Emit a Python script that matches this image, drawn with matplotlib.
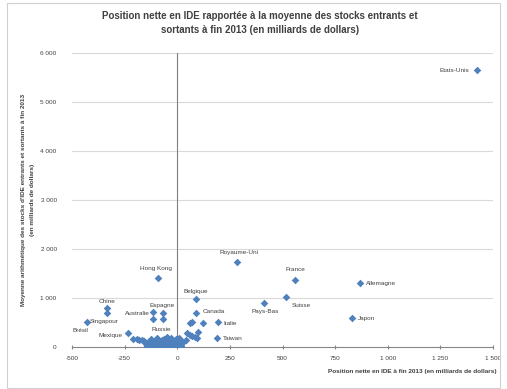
import matplotlib
matplotlib.use("Agg")
import matplotlib.pyplot as plt
from matplotlib.patches import Rectangle

plt.rcParams['font.family'] = ['Liberation Sans', 'DejaVu Sans']

# Labelled countries: net FDI position (x) and mean of inward/outward stocks (y), bn USD
countries = ["Etats-Unis", "Royaume-Uni", "France", "Allemagne", "Suisse", "Pays-Bas",
             "Japon", "Hong Kong", "Belgique", "Chine", "Singapour", "Brésil", "Mexique",
             "Australie", "Espagne", "Russie", "Canada", "Italie", "Taiwan"]
net_position = [1425, 286, 560, 867, 519, 410, 829, -90, 88, -335, -335, -431, -233,
                -115, -67, -67, 90, 195, 190]
mean_stock = [5650, 1735, 1360, 1300, 1020, 900, 590, 1400, 975, 790, 690, 508, 286,
              570, 694, 571, 694, 510, 184]

# Remaining (unlabelled) economies
other_x = [-114, -190, -167, -210, 48, 100, 62, 71, 124, 60, 85, 95, 70, 40,
           -180, -160, -140, -120, -100, -90, -80, -70, -60, -55, -45, -40, -35, -30,
           -25, -20, -15, -10, -8, -5, 0, 3, 6, 10, 12, 15, -130, -110, -95, -65, -50,
           -28, -18, -3, 20, 25, -125, -85, -5, 8,
           -150, -135, -115, -105, -75, -62, -48, -38, -22, -12, 2, 18, -88, -52,
           -142, -98, -72, -33, -2, 14]
other_y = [714, 163, 143, 163, 286, 306, 490, 510, 490, 245, 200, 184, 230, 150,
           150, 130, 110, 90, 140, 60, 100, 40, 120, 80, 30, 150, 60, 100,
           20, 45, 80, 10, 35, 120, 5, 50, 25, 80, 15, 140, 50, 20, 180, 170, 200,
           190, 5, 60, 30, 100, 170, 10, 160, 190,
           60, 80, 40, 120, 70, 20, 110, 40, 130, 60, 100, 60, 30, 50,
           20, 90, 140, 15, 170, 40]

x_ticks = [-500, -250, 0, 250, 500, 750, 1000, 1250, 1500]
x_tick_labels = ["-500", "-250", "0", "250", "500", "750", "1 000", "1 250", "1 500"]
y_ticks = [0, 1000, 2000, 3000, 4000, 5000, 6000]
y_tick_labels = ["0", "1 000", "2 000", "3 000", "4 000", "5 000", "6 000"]

# Label placement per country: (dx, dy) in pixels and horizontal alignment
label_place = {
    "Etats-Unis": (-8, 0, "right"), "Royaume-Uni": (2, 9, "center"),
    "France": (0, 11, "center"), "Allemagne": (6, 0, "left"),
    "Suisse": (5, -8, "left"), "Pays-Bas": (2, -9, "center"),
    "Japon": (6, 0, "left"), "Hong Kong": (-2, 10, "center"),
    "Belgique": (0, 8, "center"), "Chine": (0, 7, "center"),
    "Singapour": (-17, -8, "left"), "Brésil": (-6, -8, "center"),
    "Mexique": (-6, -3, "right"), "Australie": (-3, 6, "right"),
    "Espagne": (-1, 7, "center"), "Russie": (-2, -10, "center"),
    "Canada": (6, 1, "left"), "Italie": (5, -1, "left"), "Taiwan": (6, -1, "left"),
}

blue = "#4F81BD"
text_col = "#404040"

fig = plt.figure(figsize=(5.07, 3.89), dpi=100)
ax = fig.add_axes([72 / 507, 42 / 389, 421 / 507, 294 / 389])

ax.set_xlim(-500, 1500)
ax.set_ylim(0, 6000)

for yv in y_ticks[1:]:
    ax.axhline(yv, color="#d9d9d9", lw=0.8, zorder=0)
ax.axvline(0, color="#7f7f7f", lw=0.8, zorder=1)

ax.scatter(other_x, other_y, marker="D", s=15, color=blue, zorder=3, linewidths=0)
ax.scatter(net_position, mean_stock, marker="D", s=15, color=blue, zorder=3, linewidths=0)

for name, xv, yv in zip(countries, net_position, mean_stock):
    dx, dy, ha = label_place[name]
    ax.annotate(name, (xv, yv), xytext=(dx * 0.72, dy * 0.72), textcoords="offset points",
                ha=ha, va="center", fontsize=4.6, color=text_col)

for s in ["top", "right", "left"]:
    ax.spines[s].set_visible(False)
ax.spines["bottom"].set_color("#868686")
ax.spines["bottom"].set_linewidth(0.8)

ax.set_xticks(x_ticks)
ax.set_xticklabels(x_tick_labels)
ax.set_yticks(y_ticks)
ax.set_yticklabels(y_tick_labels)
ax.tick_params(axis="x", length=2.5, direction="inout", color="#868686",
               labelsize=4.6, labelcolor=text_col, pad=5)
ax.tick_params(axis="y", length=0, labelsize=4.6, labelcolor=text_col, pad=11)

fig.text(260 / 507, 1 - 23 / 389,
         "Position nette en IDE rapportée à la moyenne des stocks entrants et\n"
         "sortants à fin 2013 (en milliards de dollars)",
         ha="center", va="center", fontsize=7, fontweight="bold", color=text_col,
         linespacing=1.55)

fig.text(497 / 507, 1 - 372 / 389,
         "Position nette en IDE à fin 2013 (en milliards de dollars)",
         ha="right", va="center", fontsize=4.6, fontweight="bold", color=text_col)

fig.text(28 / 507, 1 - 200 / 389,
         "Moyenne arithmétique des stocks d'IDE entrants et sortants à fin 2013\n"
         "(en milliards de dollars)",
         ha="center", va="center", rotation=90, fontsize=4.6, fontweight="bold",
         color=text_col, linespacing=2.2)

fig.patches.append(Rectangle((7 / 507, 1 / 389), 493 / 507, 385 / 389,
                             transform=fig.transFigure, fill=False,
                             edgecolor="#d0d0d0", lw=0.8))

fig.savefig("out.png", dpi=100)
